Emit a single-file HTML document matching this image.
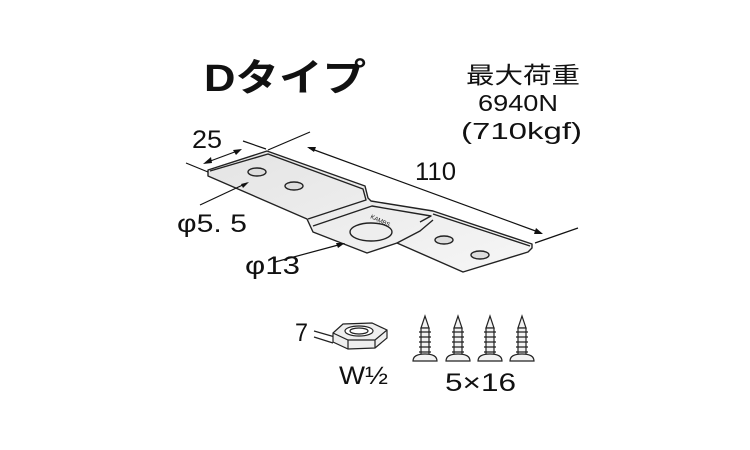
<!DOCTYPE html>
<html><head><style>
body{margin:0;background:#fff;width:750px;height:450px;overflow:hidden}
svg{position:absolute;left:0;top:0}
text{font-family:"Liberation Sans","Noto Sans CJK JP",sans-serif;fill:#111}
</style></head><body>
<svg width="750" height="450" viewBox="0 0 750 450">
<defs><linearGradient id="g" x1="0" y1="0" x2="1" y2="1"><stop offset="0" stop-color="#e4e4e4"/><stop offset="1" stop-color="#f6f6f6"/></linearGradient></defs>
<text x="204" y="91" font-size="38" font-weight="bold" textLength="162" lengthAdjust="spacingAndGlyphs">Dタイプ</text>
<text x="466" y="83" font-size="23" textLength="114" lengthAdjust="spacingAndGlyphs">最大荷重</text>
<text x="478" y="111" font-size="23" textLength="80" lengthAdjust="spacingAndGlyphs">6940N</text>
<text x="461" y="139" font-size="23" textLength="121" lengthAdjust="spacingAndGlyphs">(710kgf)</text>
<g stroke="#222" stroke-width="1.4" fill="url(#g)" stroke-linejoin="round">
<polygon points="208,170 267,151 365,186 368,198 371,201 433,211 532,244 532,248 528,252 463,272 397,243 367,253 313,232 307,219 208,176"/>
<polyline fill="none" points="210,171 268,154 363,189 366,200 308,219"/>
<polyline fill="none" points="313,226 372,206 431,216 420,222"/>
<polyline fill="none" points="433,214 530,246"/>
<polyline fill="none" points="397,243 420,231 433,220"/>
<ellipse cx="257" cy="172" rx="9" ry="4" fill="#ddd"/>
<ellipse cx="294" cy="186" rx="9" ry="4" fill="#ddd"/>
<ellipse cx="444" cy="240" rx="9" ry="4" fill="#ddd"/>
<ellipse cx="480" cy="255" rx="9" ry="4" fill="#ddd"/>
<ellipse cx="371" cy="232" rx="21" ry="9" fill="#eee"/>
</g>
<text x="370" y="218" font-size="6" transform="rotate(25 370 218)">KAMBS</text>
<g stroke="#111" stroke-width="1.2" fill="none">
<line x1="186" y1="163" x2="208" y2="172"/>
<line x1="243" y1="141" x2="266" y2="149"/>
<line x1="268" y1="150" x2="310" y2="132"/>
<line x1="535" y1="243" x2="578" y2="228"/>
<line x1="205" y1="163" x2="240" y2="150"/>
<line x1="309" y1="148" x2="541" y2="233"/>
<line x1="200" y1="205" x2="247" y2="183"/>
<line x1="275" y1="262" x2="342" y2="244"/>
</g>
<g fill="#111">
<polygon points="203,164 211,157 212,163"/>
<polygon points="242,149 233,150 236,155"/>
<polygon points="307,147 316,147 314,152"/>
<polygon points="543,234 534,234 536,228"/>
<polygon points="249,182 241,184 243,188"/>
<polygon points="345,243 336,243 338,248"/>
</g>
<text x="192" y="148" font-size="25" textLength="30" lengthAdjust="spacingAndGlyphs">25</text>
<text x="415" y="180" font-size="25" textLength="41" lengthAdjust="spacingAndGlyphs">110</text>
<text x="177" y="232" font-size="25" textLength="70" lengthAdjust="spacingAndGlyphs">φ5. 5</text>
<text x="245" y="274" font-size="25" textLength="55" lengthAdjust="spacingAndGlyphs">φ13</text>
<g stroke="#222" stroke-width="1.2" fill="#eee">
<line x1="314" y1="331" x2="335" y2="337" fill="none"/>
<line x1="314" y1="337" x2="333" y2="343" fill="none"/>
<polygon points="333,333 343,324 372,323 387,330 387,338 375,348 348,349 333,342"/>
<polyline fill="none" points="333,333 348,340 375,340 387,330"/>
<line x1="348" y1="340" x2="348" y2="349"/><line x1="375" y1="340" x2="375" y2="348"/>
<ellipse cx="359" cy="331" rx="14" ry="5" fill="#fff"/>
<ellipse cx="359" cy="331" rx="9" ry="3" fill="#fff"/>
</g>
<text x="295" y="341" font-size="25" textLength="13" lengthAdjust="spacingAndGlyphs">7</text>
<text x="339" y="384" font-size="25" textLength="49" lengthAdjust="spacingAndGlyphs">W½</text>
<g stroke="#222" stroke-width="1.2" fill="#f2f2f2">
<g id="s">
<path d="M421,328 L425,316 L429,328 Z"/>
<rect x="421" y="328" width="8" height="27"/>
<path d="M419,332h12M419,337h12M419,342h12M419,347h12M419,352h12" fill="none"/>
<path d="M413,361 Q413,354 425,354 Q437,354 437,361 Z"/>
</g>
<use href="#s" x="33"/><use href="#s" x="65"/><use href="#s" x="97"/>
</g>
<text x="445" y="391" font-size="25" textLength="71" lengthAdjust="spacingAndGlyphs">5×16</text>
</svg>
</body></html>
